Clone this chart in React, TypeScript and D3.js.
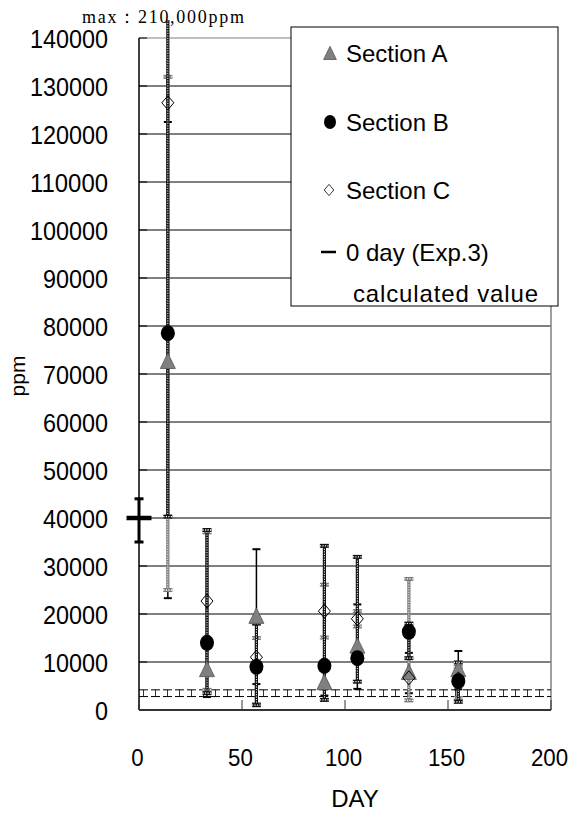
import React from "react";
import * as d3 from "d3";

// ---- data ----
const days = [14, 33, 57, 90, 106, 131, 155];
const aMean = [72500, 8300, 19400, 5600, 13200, 7700, 8300];
const aLow = [23300, 2700, 5400, 3000, 4400, 3500, 4300];
const aHigh = [122500, 14000, 33500, 8200, 22000, 11900, 12300];
const bMean = [78500, 14000, 9000, 9200, 10800, 16300, 6000];
const bLow = [40300, 3500, 1000, 2100, 5900, 10800, 1700];
const bHigh = [210000, 37500, 18000, 34200, 31900, 18000, 9900];
const cMean = [126500, 22700, 11000, 20600, 19000, 6700, 6500];
const cLow = [25000, 4200, 1200, 15100, 17400, 2000, 2500];
const cHigh = [131900, 37000, 15000, 26100, 20600, 27300, 9000];
const zeroDay = [0];
const zeroVal = [40000];
const zeroLow = [35000];
const zeroHigh = [44000];
const thresholds = [4200, 2800];
const yTicks = [0, 10000, 20000, 30000, 40000, 50000, 60000, 70000, 80000, 90000, 100000, 110000, 120000, 130000, 140000];
const xTicks = [0, 50, 100, 150, 200];
const legendLabels = ["Section A", "Section B", "Section C", "0 day (Exp.3)", "calculated value"];
const maxLabel = "max：210,000ppm";

const FONT = "'Liberation Sans', Arial, sans-serif";

const x = d3.scaleLinear().domain([0, 200]).range([139, 551]);
const y = d3.scaleLinear().domain([0, 140000]).range([710, 38]);

type Style = "solid" | "dark" | "gray";

function ErrorBar({ xv, lo, hi, style }: { xv: number; lo: number; hi: number; style: Style }) {
  const px = x(xv);
  const y1 = y(lo);
  const y2 = y(hi);
  if (style === "solid") {
    return (
      <g>
        <line x1={px} x2={px} y1={y1} y2={y2} stroke="#000" strokeWidth={1.5} />
        <line x1={px - 4} x2={px + 4} y1={y1} y2={y1} stroke="#000" strokeWidth={2} />
        <line x1={px - 4} x2={px + 4} y1={y2} y2={y2} stroke="#000" strokeWidth={2} />
      </g>
    );
  }
  const col = style === "dark" ? "#111" : "#7a7a7a";
  return (
    <g>
      <line x1={px} x2={px} y1={y1} y2={y2} stroke={col} strokeWidth={3.2} />
      <line x1={px} x2={px} y1={y1} y2={y2} stroke="#fff" strokeWidth={1} strokeDasharray="1.2,1.3" />
      {[y1, y2].map((yy, i) => (
        <g key={i}>
          <line x1={px - 4.5} x2={px + 4.5} y1={yy} y2={yy} stroke={col} strokeWidth={4} />
          <line x1={px - 4.5} x2={px + 4.5} y1={yy} y2={yy} stroke="#fff" strokeWidth={1.3} strokeDasharray="1.2,1.3" />
        </g>
      ))}
    </g>
  );
}

const triPath = "M0,-9 L7.5,6.5 L-7.5,6.5 Z";
const diaPath = "M0,-7 L6,0 L0,7 L-6,0 Z";

export default function App() {
  const x0 = x(0);
  const x1 = x(200);
  const yTop = y(140000);
  const yBot = y(0);
  const tMid = (y(thresholds[0]) + y(thresholds[1])) / 2;
  const tGap = y(thresholds[1]) - y(thresholds[0]);

  return (
    <svg width={571} height={814} style={{ position: "absolute", left: 0, top: 0, background: "#fff" }}>
      <defs>
        <clipPath id="clipTop">
          <rect x={0} y={20} width={571} height={800} />
        </clipPath>
      </defs>
      <rect x={0} y={0} width={571} height={814} fill="#fff" />

      {/* gridlines */}
      {yTicks.filter((t) => t > 0 && t < 140000).map((t) => (
        <line key={t} x1={x0} x2={x1} y1={y(t)} y2={y(t)} stroke="#000" strokeWidth={1} />
      ))}
      {/* plot border top/right */}
      <line x1={x0} x2={x1} y1={yTop} y2={yTop} stroke="#808080" strokeWidth={1.2} />
      <line x1={x1} x2={x1} y1={yTop} y2={yBot} stroke="#808080" strokeWidth={1.5} />
      {/* y ticks inward */}
      {yTicks.map((t) => (
        <line key={t} x1={x0} x2={x0 + 8} y1={y(t)} y2={y(t)} stroke="#000" strokeWidth={1} />
      ))}

      {/* threshold dashed lines */}
      {thresholds.map((t) => (
        <line key={t} x1={x0} x2={x1} y1={y(t)} y2={y(t)} stroke="#000" strokeWidth={1} strokeDasharray="9,3" />
      ))}
      <line x1={x0} x2={x1} y1={tMid} y2={tMid} stroke="#000" strokeWidth={tGap} strokeDasharray="0.8,11.2" strokeDashoffset={-4} />

      {/* zero day */}
      {zeroDay.map((d, i) => (
        <g key={i}>
          <line x1={x(d)} x2={x(d)} y1={y(zeroLow[i])} y2={y(zeroHigh[i])} stroke="#000" strokeWidth={3} />
          <line x1={x(d) - 4.5} x2={x(d) + 4.5} y1={y(zeroLow[i])} y2={y(zeroLow[i])} stroke="#000" strokeWidth={3} />
          <line x1={x(d) - 4.5} x2={x(d) + 4.5} y1={y(zeroHigh[i])} y2={y(zeroHigh[i])} stroke="#000" strokeWidth={3} />
          <line x1={x(d) - 12.5} x2={x(d) + 12.5} y1={y(zeroVal[i])} y2={y(zeroVal[i])} stroke="#000" strokeWidth={4.5} />
        </g>
      ))}

      {/* error bars: A, C, B order */}
      <g clipPath="url(#clipTop)">
        {days.map((d, i) => <ErrorBar key={"a" + i} xv={d} lo={aLow[i]} hi={aHigh[i]} style="solid" />)}
        {days.map((d, i) => <ErrorBar key={"c" + i} xv={d} lo={cLow[i]} hi={cHigh[i]} style="gray" />)}
        {days.map((d, i) => <ErrorBar key={"b" + i} xv={d} lo={bLow[i]} hi={bHigh[i]} style="dark" />)}
      </g>

      {/* markers */}
      {days.map((d, i) => (
        <path key={"ma" + i} d={triPath} transform={`translate(${x(d)},${y(aMean[i])})`} fill="#808080" stroke="#555" strokeWidth={0.8} />
      ))}
      {days.map((d, i) => (
        <ellipse key={"mb" + i} cx={x(d)} cy={y(bMean[i])} rx={7} ry={8} fill="#000" />
      ))}
      {days.map((d, i) => (
        <path key={"mc" + i} d={diaPath} transform={`translate(${x(d)},${y(cMean[i])})`} fill="none" stroke="#000" strokeWidth={1} />
      ))}

      {/* axes */}
      <line x1={x0} x2={x0} y1={yTop} y2={yBot} stroke="#000" strokeWidth={1.5} />
      <line x1={x0} x2={x1} y1={yBot} y2={yBot} stroke="#333" strokeWidth={2} />
      {xTicks.map((t) => (
        <line key={t} x1={x(t)} x2={x(t)} y1={yBot} y2={yBot - 10} stroke="#333" strokeWidth={1} />
      ))}

      {/* y labels */}
      {yTicks.map((t) => (
        <text key={t} x={108} y={y(t) + 10} textAnchor="end" fontFamily={FONT} fontSize={25}
          textLength={String(t).length * 13} lengthAdjust="spacingAndGlyphs" fill="#000">
          {t}
        </text>
      ))}
      {/* x labels */}
      {xTicks.map((t) => (
        <text key={t} x={x(t) - 1.5} y={766} textAnchor="middle" fontFamily={FONT} fontSize={24}
          textLength={String(t).length * 12.4} lengthAdjust="spacingAndGlyphs" fill="#000">
          {t}
        </text>
      ))}
      <text x={355} y={807} textAnchor="middle" fontFamily={FONT} fontSize={24} fill="#000">DAY</text>
      <text transform="translate(25,376) rotate(-90)" textAnchor="middle" fontFamily={FONT} fontSize={21} fill="#000">ppm</text>

      <text x={82} y={23} fontFamily="'Liberation Serif', serif" fontSize={18} textLength={162} lengthAdjust="spacing" fill="#000">
        {maxLabel}
      </text>

      {/* legend */}
      <rect x={291} y={27} width={267} height={279} fill="#fff" stroke="#000" strokeWidth={1} />
      <path d={triPath} transform="translate(330,54) scale(0.85)" fill="#808080" stroke="#444" strokeWidth={0.8} />
      <ellipse cx={330} cy={122} rx={6} ry={7} fill="#000" />
      <path d={diaPath} transform="translate(329,190) scale(0.8)" fill="#fff" stroke="#000" strokeWidth={1} />
      <line x1={321} x2={336} y1={252} y2={252} stroke="#000" strokeWidth={2.5} />
      <text x={346} y={62} fontFamily={FONT} fontSize={24} fill="#000">{legendLabels[0]}</text>
      <text x={346} y={131} fontFamily={FONT} fontSize={24} fill="#000">{legendLabels[1]}</text>
      <text x={346} y={199} fontFamily={FONT} fontSize={24} fill="#000">{legendLabels[2]}</text>
      <text x={346} y={261} fontFamily={FONT} fontSize={24} fill="#000">{legendLabels[3]}</text>
      <text x={353} y={302} fontFamily={FONT} fontSize={24} textLength={185} lengthAdjust="spacing" fill="#000">{legendLabels[4]}</text>
    </svg>
  );
}
